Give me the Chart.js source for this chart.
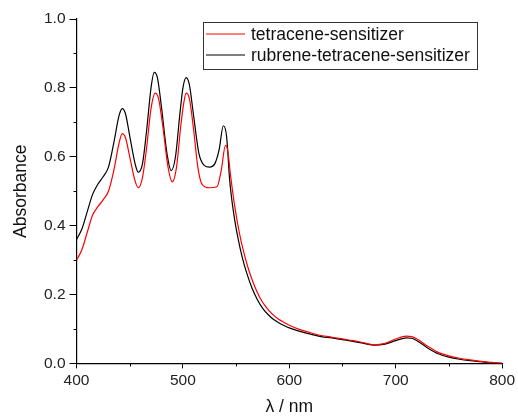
<!DOCTYPE html>
<html>
<head>
<meta charset="utf-8">
<script src="https://cdn.jsdelivr.net/npm/chart.js@4.4.1/dist/chart.umd.min.js"></script>
<style>
  html, body { margin: 0; padding: 0; background: #fff; }
  #wrap { width: 518px; height: 418px; position: relative; }
</style>
</head>
<body>
<div id="wrap"><canvas id="spectra"></canvas></div>
<script>
// Wavelengths (nm) and absorbance
var blackNm = [400, 405, 410, 415, 420, 425, 430, 435, 440, 443, 446, 450, 455, 458, 462, 466, 470, 473, 476, 480, 485, 489, 493, 497, 500, 503, 506, 510, 515, 520, 525, 530, 534, 538, 541, 544, 548, 552, 556, 560, 565, 570, 575, 580, 585, 590, 595, 600, 610, 620, 630, 640, 650, 660, 670, 680, 690, 700, 710, 715, 720, 730, 740, 750, 760, 770, 780, 790, 800];
var blackAbs = [0.36, 0.39, 0.44, 0.49, 0.52, 0.542, 0.57, 0.64, 0.72, 0.74, 0.725, 0.66, 0.58, 0.555, 0.58, 0.68, 0.80, 0.845, 0.83, 0.74, 0.61, 0.56, 0.60, 0.72, 0.80, 0.83, 0.81, 0.72, 0.61, 0.575, 0.57, 0.58, 0.62, 0.69, 0.66, 0.53, 0.43, 0.36, 0.305, 0.262, 0.218, 0.185, 0.16, 0.142, 0.128, 0.118, 0.11, 0.103, 0.093, 0.085, 0.078, 0.074, 0.069, 0.064, 0.058, 0.053, 0.056, 0.066, 0.074, 0.073, 0.066, 0.045, 0.028, 0.018, 0.012, 0.008, 0.005, 0.002, 0.0];

var redNm = [400, 405, 410, 415, 420, 425, 430, 435, 440, 443, 446, 450, 455, 458, 462, 466, 470, 474, 477, 481, 486, 490, 494, 498, 501, 503, 506, 510, 514, 518, 525, 532, 536, 540, 542, 545, 549, 553, 557, 561, 566, 572, 578, 584, 590, 595, 600, 610, 620, 630, 640, 650, 660, 670, 680, 690, 700, 710, 715, 720, 730, 740, 750, 760, 770, 780, 790, 800];
var redAbs = [0.30, 0.33, 0.38, 0.43, 0.455, 0.475, 0.50, 0.56, 0.64, 0.667, 0.655, 0.60, 0.53, 0.51, 0.54, 0.63, 0.74, 0.785, 0.77, 0.69, 0.57, 0.527, 0.57, 0.69, 0.76, 0.785, 0.77, 0.68, 0.57, 0.52, 0.51, 0.513, 0.56, 0.633, 0.62, 0.54, 0.45, 0.38, 0.325, 0.28, 0.235, 0.193, 0.164, 0.143, 0.128, 0.119, 0.111, 0.098, 0.089, 0.081, 0.076, 0.071, 0.066, 0.060, 0.054, 0.058, 0.071, 0.079, 0.078, 0.071, 0.05, 0.032, 0.022, 0.015, 0.01, 0.006, 0.003, 0.0];

var seriesNames = ["tetracene-sensitizer", "rubrene-tetracene-sensitizer"];
var xTicks = [400, 500, 600, 700, 800];
var yTicks = [0.0, 0.2, 0.4, 0.6, 0.8, 1.0];

function toPoints(xs, ys) {
    return xs.map(function (x, i) { return {x: x, y: ys[i]}; });
}

var font = "'Liberation Sans', Arial, sans-serif";
Chart.defaults.font.family = font;
Chart.defaults.color = "#222";

// Minor ticks half way between labelled ones
var minorTicks = {
    id: "minorTicks",
    afterDraw: function (chart) {
        var ctx = chart.ctx;
        var xs = chart.scales.x, ys = chart.scales.y;
        ctx.save();
        ctx.strokeStyle = "#000";
        ctx.lineWidth = 1;
        ctx.beginPath();
        for (var i = 0; i < xTicks.length - 1; i++) {
            var px = Math.round(xs.getPixelForValue((xTicks[i] + xTicks[i + 1]) / 2)) + 0.5;
            ctx.moveTo(px, ys.bottom);
            ctx.lineTo(px, ys.bottom + 3);
        }
        for (var j = 0; j < yTicks.length - 1; j++) {
            var py = Math.round(ys.getPixelForValue((yTicks[j] + yTicks[j + 1]) / 2)) + 0.5;
            ctx.moveTo(xs.left, py);
            ctx.lineTo(xs.left - 3, py);
        }
        ctx.stroke();
        ctx.restore();
    }
};

// Boxed legend in the upper right of the plot
var boxLegend = {
    id: "boxLegend",
    afterDraw: function (chart) {
        var ctx = chart.ctx;
        var x0 = 203, y0 = 22, w = 274, h = 47;
        ctx.save();
        ctx.fillStyle = "#fff";
        ctx.fillRect(x0, y0, w, h);
        ctx.strokeStyle = "#333";
        ctx.lineWidth = 1;
        ctx.strokeRect(x0 + 0.5, y0 + 0.5, w, h);
        ctx.font = "17.5px " + font;
        ctx.textBaseline = "middle";
        chart.data.datasets.forEach(function (ds, i) {
            var ly = y0 + 12 + i * 21;
            ctx.strokeStyle = ds.borderColor;
            ctx.lineWidth = 1.2;
            ctx.beginPath();
            ctx.moveTo(x0 + 3, ly);
            ctx.lineTo(x0 + 42, ly);
            ctx.stroke();
            ctx.fillStyle = "#111";
            ctx.fillText(ds.label, x0 + 48, ly + 1);
        });
        ctx.restore();
    }
};

var ctx = document.getElementById("spectra").getContext("2d");
var spectraChart = new Chart(ctx, {
    type: "line",
    data: {
        datasets: [{
                label: seriesNames[0],
                data: toPoints(redNm, redAbs),
                borderColor: "#ff0000",
                borderWidth: 1.2,
                pointRadius: 0,
                cubicInterpolationMode: "monotone",
                fill: false
            },
            {
                label: seriesNames[1],
                data: toPoints(blackNm, blackAbs),
                borderColor: "#000000",
                borderWidth: 1.2,
                pointRadius: 0,
                cubicInterpolationMode: "monotone",
                fill: false
            }
        ]
    },
    options: {
        responsive: true,
        maintainAspectRatio: false,
        animation: false,
        layout: {
            padding: {left: 11, right: 4, top: 19, bottom: 0}
        },
        plugins: {
            legend: {display: false},
            tooltip: {enabled: false}
        },
        scales: {
            x: {
                type: "linear",
                min: 400,
                max: 800,
                afterBuildTicks: function (axis) {
                    axis.ticks = xTicks.map(function (v) { return {value: v}; });
                },
                ticks: {font: {size: 15.5}, color: "#222", padding: 3},
                grid: {drawOnChartArea: false, tickLength: 5, tickColor: "#000"},
                border: {color: "#000", width: 1.2},
                title: {display: true, text: "λ / nm", font: {size: 17.5}, color: "#111", padding: {top: 4, bottom: 0}}
            },
            y: {
                type: "linear",
                min: 0,
                max: 1,
                afterBuildTicks: function (axis) {
                    axis.ticks = yTicks.map(function (v) { return {value: v}; });
                },
                ticks: {
                    font: {size: 15.5},
                    color: "#222",
                    padding: 4,
                    callback: function (v) { return v.toFixed(1); }
                },
                grid: {drawOnChartArea: false, tickLength: 7, tickColor: "#000"},
                border: {color: "#000", width: 1.2},
                title: {display: true, text: "Absorbance", font: {size: 17.5}, color: "#111", padding: {top: 0, bottom: 8}}
            }
        }
    },
    plugins: [minorTicks, boxLegend]
});
</script>
</body>
</html>
